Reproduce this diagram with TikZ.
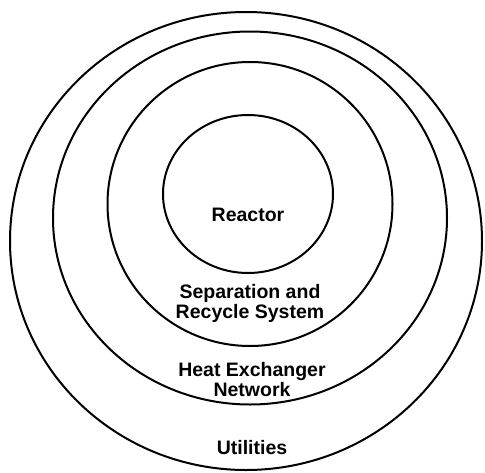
\documentclass[tikz,border=0pt]{standalone}
\usepackage{fontspec}
\setmainfont{Liberation Sans}
\usepackage{tikz}
\usetikzlibrary{shapes.geometric}

\begin{document}
\begin{tikzpicture}[x=1pt, y=-1pt,
    ring/.style={ellipse, draw=black, line width=2pt, inner sep=0pt},
    layertext/.style={align=center, font=\fontsize{19.5}{20}\selectfont\bfseries, inner sep=0pt}
]
\useasboundingbox (0,0) rectangle (485,472);

% Rings (outermost to innermost)
\node[ring, minimum width=472pt, minimum height=458pt] (utilities) at (246,241) {};
\node[ring, minimum width=394pt, minimum height=373pt] (hen) at (250,218) {};
\node[ring, minimum width=285pt, minimum height=284pt] (separation) at (250,204) {};
\node[ring, minimum width=170pt, minimum height=158pt] (reactor) at (248,194) {};

% Layer labels
\node[layertext] (reactorLbl) at (248,215) {Reactor};
\node[layertext] (separationLbl) at (250,303) {Separation and\\Recycle System};
\node[layertext] (henLbl) at (252,380) {Heat Exchanger\\Network};
\node[layertext] (utilitiesLbl) at (252,448) {Utilities};

\end{tikzpicture}
\end{document}
